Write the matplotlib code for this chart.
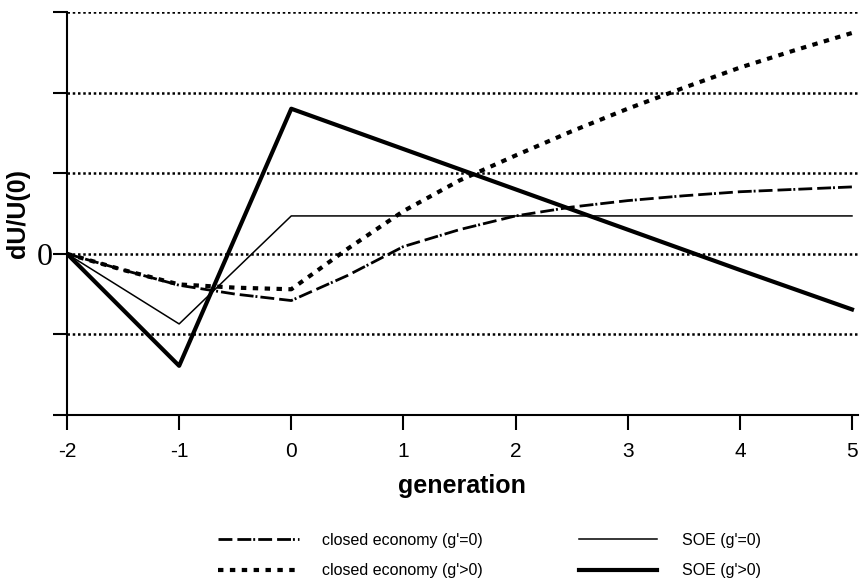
import matplotlib
matplotlib.use("Agg")
import matplotlib.pyplot as plt

plt.rcParams['font.family'] = ['Liberation Sans', 'DejaVu Sans']

# generations for the small open economy paths
gen_soe = [-2, -1, 0, 1, 2, 3, 4, 5]
soe_g0 = [0, -0.87, 0.47, 0.47, 0.47, 0.47, 0.47, 0.47]
soe_gpos = [0, -1.39, 1.80, 1.30, 0.80, 0.30, -0.20, -0.69]

# closed economy paths, read at half generations
gen_closed = [-2, -1.5, -1, -0.5, 0, 0.5, 1, 1.5, 2, 2.5, 3, 3.5, 4, 4.5, 5]
closed_g0 = [0, -0.2, -0.39, -0.5, -0.58, -0.27, 0.09, 0.3, 0.47, 0.58, 0.66, 0.72, 0.77, 0.8, 0.83]
closed_gpos = [0, -0.2, -0.38, -0.42, -0.44, 0.06, 0.53, 0.91, 1.22, 1.52, 1.8, 2.06, 2.31, 2.53, 2.74]

x_ticks = [-2, -1, 0, 1, 2, 3, 4, 5]
y_ticks = [-2, -1, 0, 1, 2, 3]
y_tick_labels = ['', '', '0', '', '', '']

labels = ["closed economy (g'=0)", "closed economy (g'>0)", "SOE (g'=0)", "SOE (g'>0)"]

dashdot = (0, (5, 1.8, 5, 0.7, 0.7, 1.1))
squares = (0, (1.3, 1.55))

fig = plt.figure(figsize=(8.6, 5.86), dpi=100)
ax = fig.add_axes([0.0779, 0.2918, 0.9193, 0.6877])

l1, = ax.plot(gen_closed, closed_g0, color='black', lw=2, linestyle=dashdot)
l2, = ax.plot(gen_closed, closed_gpos, color='black', lw=3, linestyle=squares)
l3, = ax.plot(gen_soe, soe_g0, color='black', lw=1.1)
l4, = ax.plot(gen_soe, soe_gpos, color='black', lw=3)

ax.set_xlim(-2, 5.05)
ax.set_ylim(-2, 3)
ax.set_xticks(x_ticks)
ax.set_xticklabels([str(t) for t in x_ticks], fontsize=15)
ax.set_yticks(y_ticks)
ax.set_yticklabels(y_tick_labels, fontsize=23, family='Liberation Serif')

ax.tick_params(axis='x', direction='out', length=11, width=1.5, pad=8.5, color='black')
ax.tick_params(axis='y', direction='out', length=10, width=1.5, pad=0, color='black')

ax.grid(axis='y', color='black', lw=1.8, linestyle=(0, (1, 1.1)))
ax.set_axisbelow(True)

for side in ['top', 'right']:
    ax.spines[side].set_visible(False)
for side in ['left', 'bottom']:
    ax.spines[side].set_linewidth(1.5)

ax.set_xlabel('generation', fontsize=18, fontweight='bold', labelpad=9.5)
ax.set_ylabel('dU/U(0)', fontsize=18, fontweight='bold')
ax.yaxis.set_label_coords(-0.047, 0.5)

# legend split in two columns with different handle lengths
leg_kw = dict(frameon=False, fontsize=11.5, borderpad=0, borderaxespad=0,
              labelspacing=0.95, loc='center left')
fig.legend([l1, l2], labels[:2], bbox_to_anchor=(0.2535, 0.052),
           handlelength=5.1, handletextpad=1.4, **leg_kw)
fig.legend([l3, l4], labels[2:], bbox_to_anchor=(0.673, 0.052),
           handlelength=4.9, handletextpad=1.56, **leg_kw)

plt.savefig('out.png', dpi=100)
